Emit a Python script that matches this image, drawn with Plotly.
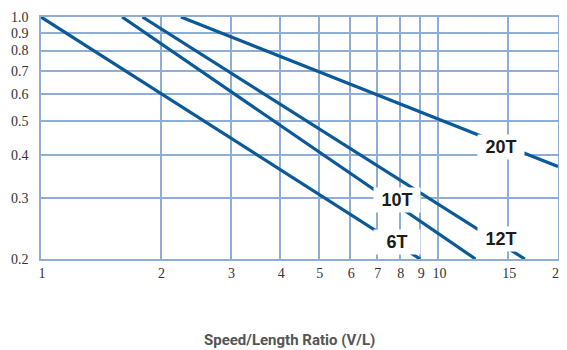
import numpy as np
import plotly.graph_objects as go

# values (log-log chart)
series_names = ["6T", "10T", "12T", "20T"]
x_6t = [1.0, 9.0]
y_6t = [1.0, 0.2]
x_10t = [1.6, 12.4]
y_10t = [1.0, 0.2]
x_12t = [1.8, 16.5]
y_12t = [1.0, 0.2]
x_20t = [2.25, 20.0]
y_20t = [1.0, 0.37]

label_x = [7.85, 7.85, 14.4, 14.4]
label_y = [0.224, 0.297, 0.228, 0.42]

x_ticks = [1, 2, 3, 4, 5, 6, 7, 8, 9, 10, 15, 20]
y_ticks = [0.2, 0.3, 0.4, 0.5, 0.6, 0.7, 0.8, 0.9, 1.0]
y_tick_text = ["0.2", "0.3", "0.4", "0.5", "0.6", "0.7", "0.8", "0.9", "1.0"]

LINE = "#0b5a97"
GRID = "#8eaed6"

fig = go.Figure()
for name, xs, ys in zip(series_names,
                        [x_6t, x_10t, x_12t, x_20t],
                        [y_6t, y_10t, y_12t, y_20t]):
    fig.add_trace(go.Scatter(x=xs, y=ys, mode="lines", name=name,
                             line=dict(color=LINE, width=3.2)))

for name, lx, ly in zip(series_names, label_x, label_y):
    fig.add_annotation(x=np.log10(lx), y=np.log10(ly), text=f"<b>{name}</b>",
                       showarrow=False, bgcolor="white", width=44, height=22,
                       font=dict(family="Liberation Sans", size=18, color="#1c1c1c"))

fig.add_annotation(xref="paper", yref="paper", x=0.48, y=-0.335, yanchor="middle",
                   text="<b>Speed/Length Ratio (V/L)</b>", showarrow=False,
                   font=dict(family="Roboto", size=15, color="#555555"))

axis_common = dict(showgrid=True, gridcolor=GRID, gridwidth=1.6,
                   showline=True, linecolor=GRID, linewidth=1.6, mirror=True,
                   zeroline=False, ticks="", automargin=False,
                   tickfont=dict(family="Liberation Serif", size=14, color="#333333"))

fig.update_xaxes(type="log", range=[0, np.log10(20)], tickvals=x_ticks,
                 ticktext=[str(v) for v in x_ticks], ticklabelshift=1,
                 ticklabelstandoff=0, ticklabeloverflow="allow", **axis_common)
fig.update_yaxes(type="log", range=[np.log10(0.2), 0], tickvals=y_ticks,
                 ticktext=y_tick_text, ticklabelstandoff=8, **axis_common)

# page body adds an 8px margin, so the figure is 8px smaller than the window
fig.update_layout(width=559, height=342, showlegend=False,
                  plot_bgcolor="white", paper_bgcolor="white",
                  margin=dict(l=33, r=9, t=9, b=91))

fig.write_html("out.html")
